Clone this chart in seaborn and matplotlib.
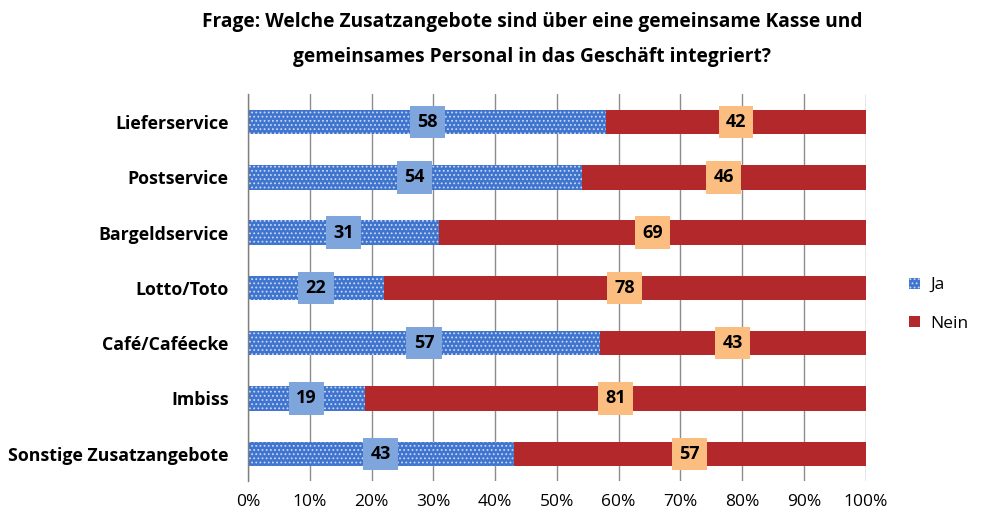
import matplotlib
matplotlib.use("Agg")
import matplotlib.pyplot as plt
import seaborn as sns
import pandas as pd
from matplotlib.patches import Patch

categories = ["Lieferservice", "Postservice", "Bargeldservice", "Lotto/Toto",
              "Café/Caféecke", "Imbiss", "Sonstige Zusatzangebote"]
ja = [58, 54, 31, 22, 57, 19, 43]
nein = [42, 46, 69, 78, 43, 81, 57]
xticks = [0, 10, 20, 30, 40, 50, 60, 70, 80, 90, 100]
xticklabels = [f"{t}%" for t in xticks]
title_lines = ["Frage: Welche Zusatzangebote sind über eine gemeinsame Kasse und",
               "gemeinsames Personal in das Geschäft integriert?"]

sns.set_style("white")
plt.rcParams['font.family'] = ['Open Sans', 'DejaVu Sans']
plt.rcParams['hatch.linewidth'] = 0.8
plt.rcParams['text.color'] = 'black'
plt.rcParams['xtick.labelcolor'] = 'black'
plt.rcParams['ytick.labelcolor'] = 'black'

df = pd.DataFrame({"cat": categories, "ja": ja, "nein": nein})
df["total"] = df["ja"] + df["nein"]

fig = plt.figure(figsize=(9.86, 5.16), dpi=100)
ax = fig.add_axes([0.2515, 0.067, 0.6265, 0.75])

red = "#B3282A"
blue = "#3F74CF"
sns.barplot(data=df, y="cat", x="total", color=red, width=0.44, ax=ax,
            saturation=1, orient="h")
sns.barplot(data=df, y="cat", x="ja", color=blue, width=0.44, ax=ax,
            saturation=1, orient="h")
n = len(categories)
for p in ax.patches[n:2*n]:
    p.set_hatch("....")
    p.set_edgecolor("#C9D8F2")
    p.set_linewidth(0)
for p in ax.patches[:n]:
    p.set_linewidth(0)

for i, (j, nn) in enumerate(zip(ja, nein)):
    ax.text(j / 2, i, str(j), ha="center", va="center", fontsize=13,
            fontweight="bold", color="black",
            bbox=dict(boxstyle="square,pad=0.4", fc="#7EA6DD", ec="none"))
    ax.text(j + nn / 2, i, str(nn), ha="center", va="center", fontsize=13,
            fontweight="bold", color="black",
            bbox=dict(boxstyle="square,pad=0.4", fc="#FBBE80", ec="none"))

ax.set_xlim(0, 100)
ax.set_ylim(n - 0.5, -0.5)
ax.set_xticks(xticks)
ax.set_xticklabels(xticklabels, fontsize=12.5, color="black")
ax.set_xlabel("")
ax.set_ylabel("")
ax.set_yticks(range(n))
ax.set_yticklabels(categories, fontsize=12.8, fontweight="bold", color="black")
ax.tick_params(axis="y", length=0, pad=14)
ax.tick_params(axis="x", length=6, color="#7F7F7F", width=1, direction="out", pad=3)
ax.set_yticks([k - 0.5 for k in range(n + 1)], minor=True)
ax.tick_params(axis="y", which="minor", length=6, color="#7F7F7F", width=1)
ax.grid(axis="x", color="#8C8C8C", linewidth=1)
ax.set_axisbelow(True)
for s in ["top", "right", "bottom"]:
    ax.spines[s].set_visible(False)
ax.spines["left"].set_color("#7F7F7F")
ax.spines["left"].set_linewidth(1)

handles = [Patch(facecolor=blue, edgecolor="#C9D8F2", hatch="....", linewidth=0, label="Ja"),
           Patch(facecolor=red, edgecolor="none", label="Nein")]
fig.legend(handles=handles, loc="center left", bbox_to_anchor=(0.922, 0.41),
           frameon=False, fontsize=12.5, handlelength=0.6, handleheight=0.6,
           labelspacing=1.3, handletextpad=0.6, borderpad=0, borderaxespad=0,
           labelcolor="black")

fig.text(0.54, 1 - 22 / 516, title_lines[0], ha="center", va="center",
         fontsize=13.8, fontweight="bold", color="black")
fig.text(0.54, 1 - 57 / 516, title_lines[1], ha="center", va="center",
         fontsize=13.8, fontweight="bold", color="black")
fig.savefig("out.png", dpi=100)
